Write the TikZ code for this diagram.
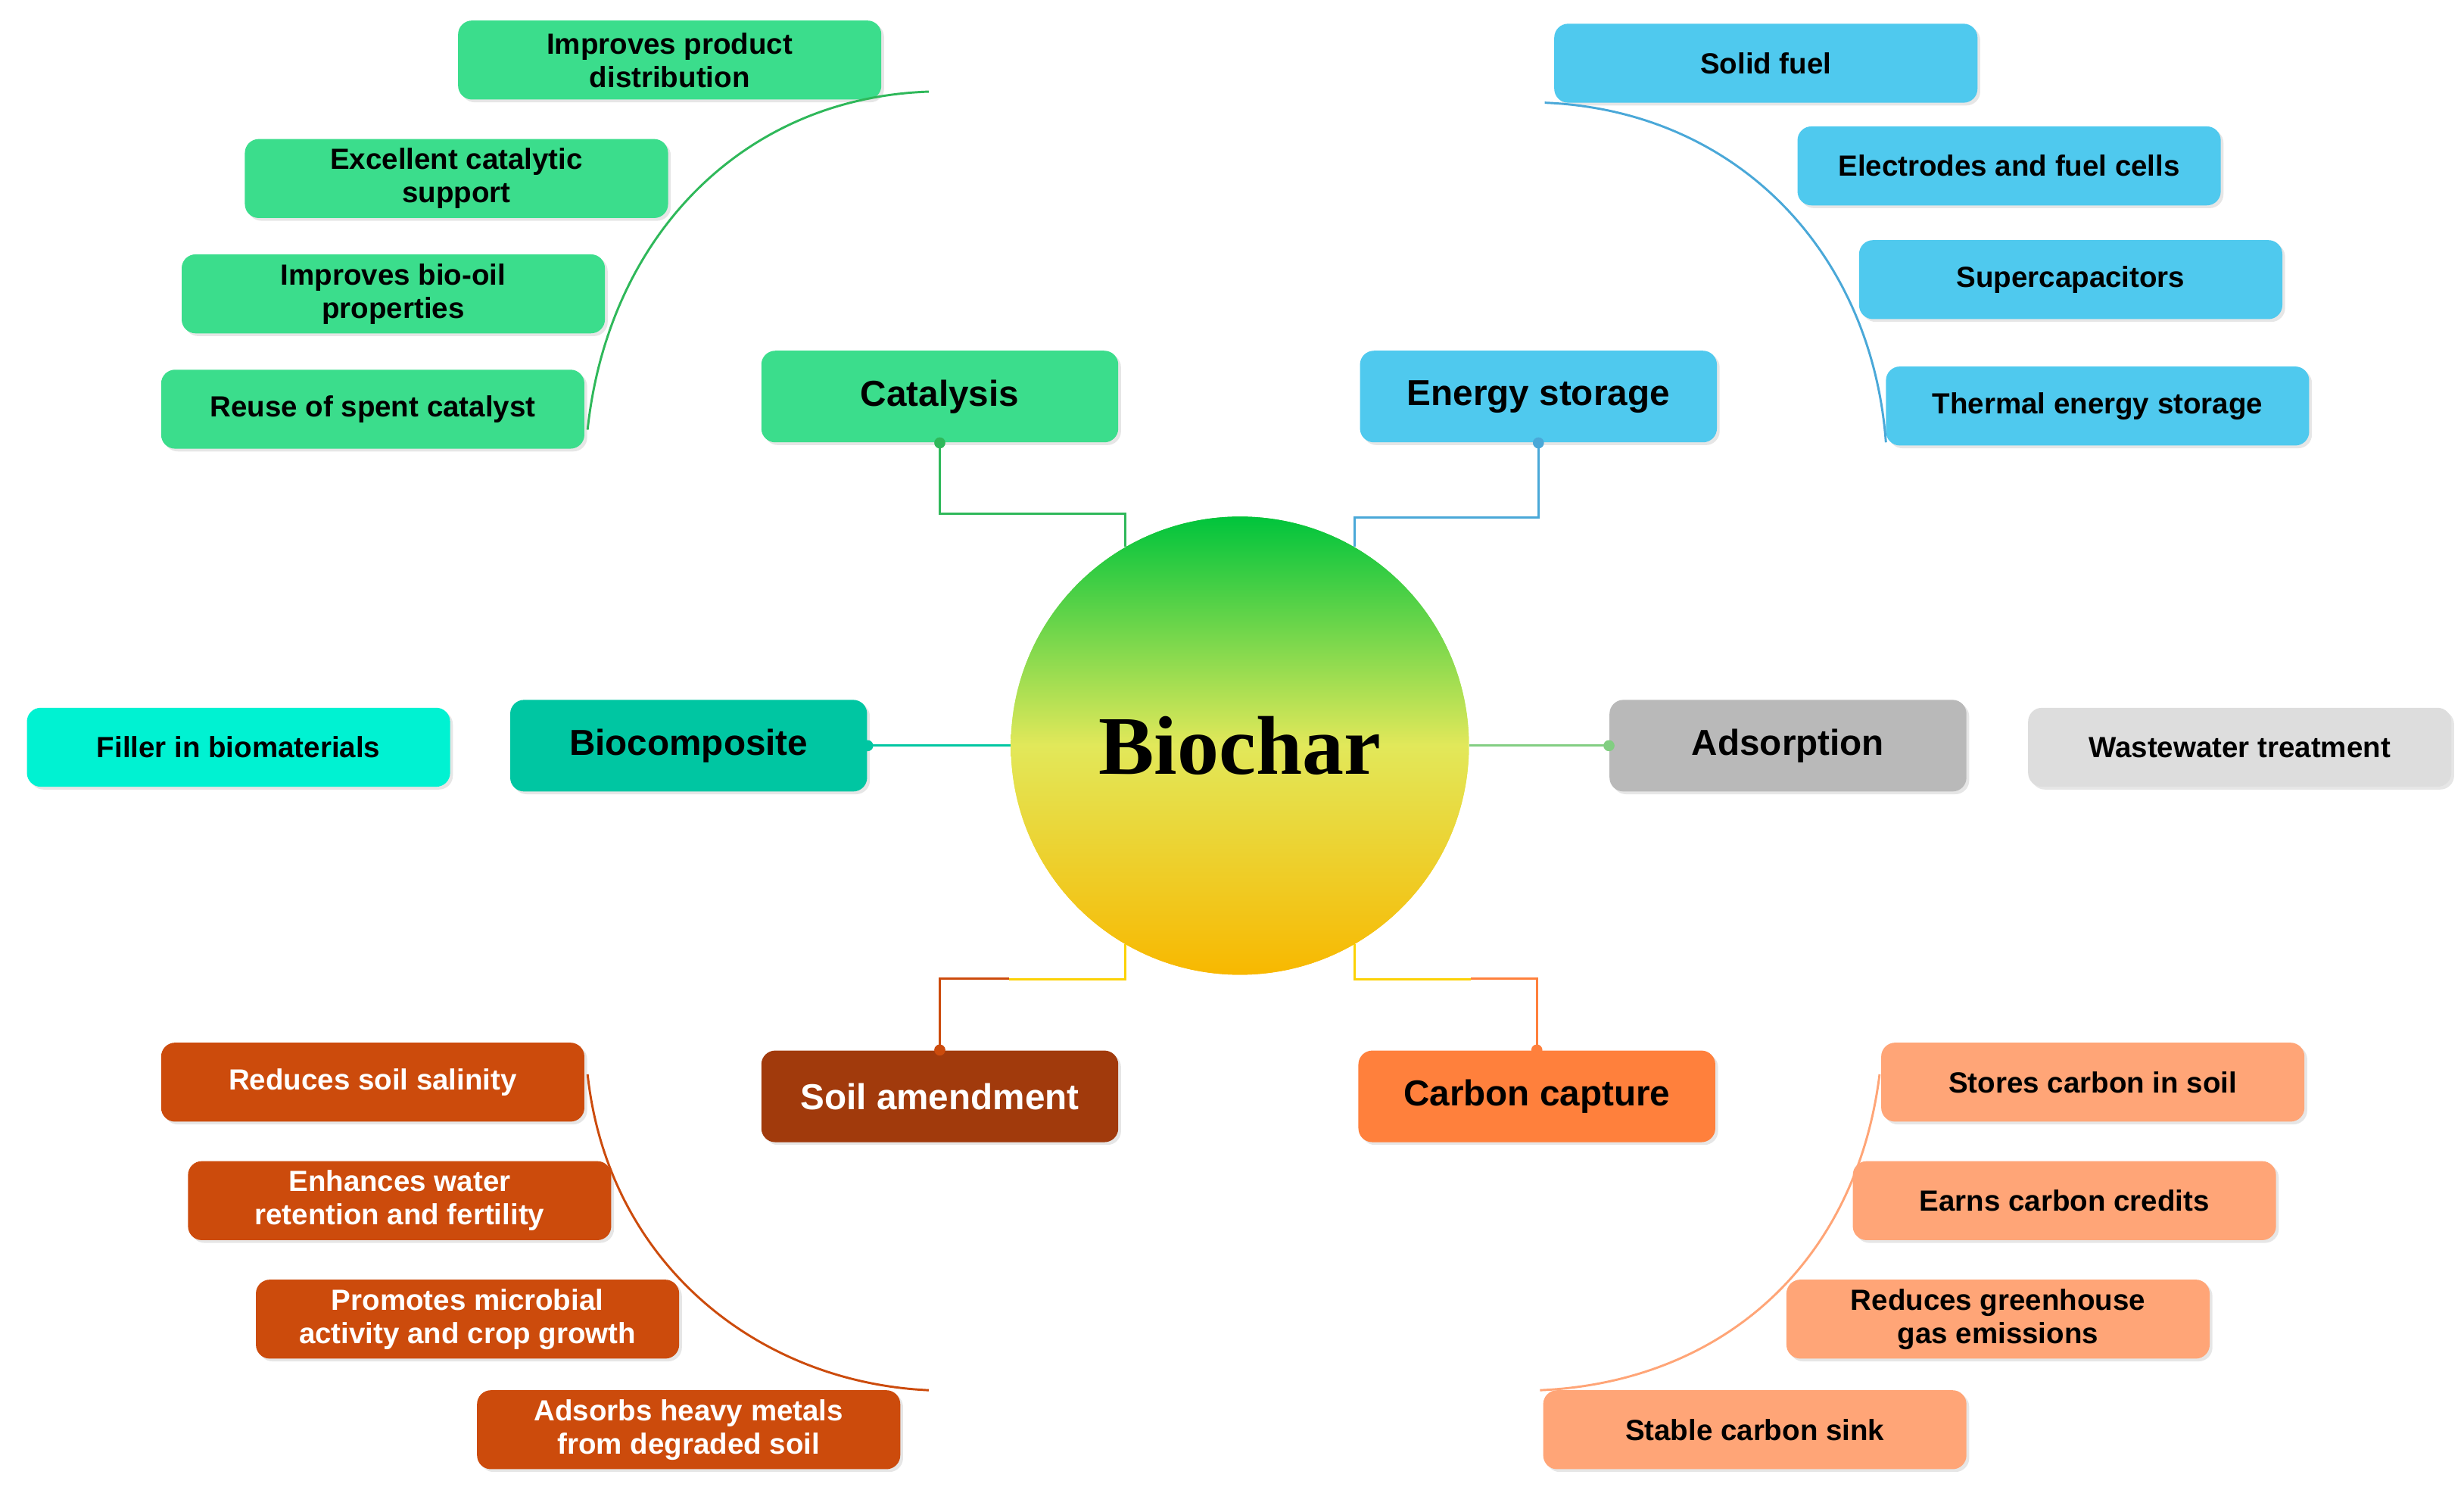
\documentclass[tikz,border=0pt]{standalone}
\usepackage{fontspec}
\setmainfont{Liberation Sans}
\newfontfamily\bigserif{Liberation Serif}
\usetikzlibrary{shadows}
\definecolor{gA}{HTML}{3BDD8C}
\definecolor{gL}{HTML}{2FB85A}
\definecolor{bA}{HTML}{4FC9EE}
\definecolor{bL}{HTML}{4AA8D8}
\definecolor{tA}{HTML}{00C6A2}
\definecolor{cA}{HTML}{00F2D2}
\definecolor{yA}{HTML}{B9B9B9}
\definecolor{wA}{HTML}{DDDDDD}
\definecolor{sA}{HTML}{A13A0C}
\definecolor{sB}{HTML}{CC4B0C}
\definecolor{oA}{HTML}{FF803C}
\definecolor{oB}{HTML}{FFA577}
\begin{document}
\begin{tikzpicture}[x=0.02cm,y=-0.02cm,
 box/.style={rounded corners=5pt,minimum width=5.36cm,minimum height=1cm,align=center,font=\bfseries\fontsize{10.5}{12}\selectfont,inner sep=1pt,drop shadow={opacity=0.2,shadow xshift=1pt,shadow yshift=-1pt}},
 main/.style={box,minimum width=4.52cm,minimum height=1.16cm,font=\bfseries\fontsize{13}{15}\selectfont},
 dot/.style={circle,inner sep=0pt,minimum size=4pt}]
\useasboundingbox (0,0) rectangle (1560,941);
% circle
\shade[top color=green!70!black!90,bottom color=orange!60!yellow,middle color=yellow!80!green!70] (785,472) circle (145);
\shade[top color={rgb,255:red,0;green,196;blue,60},bottom color={rgb,255:red,248;green,184;blue,0},middle color={rgb,255:red,226;green,232;blue,90}] (785,472) circle (145);
\node[circle,minimum size=5.8cm] (bio) at (785,472) {};
\node at (785,472) {\bigserif\bfseries\fontsize{30}{34}\selectfont Biochar};
% main nodes
\node[main,fill=gA] (cat) at (595,251) {Catalysis};
\node[main,fill=bA] (ene) at (974,251) {Energy storage};
\node[main,fill=tA] (bc) at (436,472) {Biocomposite};
\node[main,fill=yA] (ads) at (1132,472) {Adsorption};
\node[main,fill=sA,text=white] (soil) at (595,694) {Soil amendment};
\node[main,fill=oA] (car) at (973,694) {Carbon capture};
% sub nodes
\node[box,fill=gA] (g1) at (424,38) {Improves product\\distribution};
\node[box,fill=gA] (g2) at (289,113) {Excellent catalytic\\support};
\node[box,fill=gA] (g3) at (249,186) {Improves bio-oil\\properties};
\node[box,fill=gA] (g4) at (236,259) {Reuse of spent catalyst};
\node[box,fill=bA] (b1) at (1118,40) {Solid fuel};
\node[box,fill=bA] (b2) at (1272,105) {Electrodes and fuel cells};
\node[box,fill=bA] (b3) at (1311,177) {Supercapacitors};
\node[box,fill=bA] (b4) at (1328,257) {Thermal energy storage};
\node[box,fill=cA] (f1) at (151,473) {Filler in biomaterials};
\node[box,fill=wA] (w1) at (1418,473) {Wastewater treatment};
\node[box,fill=sB,text=white] (s1) at (236,685) {Reduces soil salinity};
\node[box,fill=sB,text=white] (s2) at (253,760) {Enhances water\\retention and fertility};
\node[box,fill=sB,text=white] (s3) at (296,835) {Promotes microbial\\activity and crop growth};
\node[box,fill=sB,text=white] (s4) at (436,905) {Adsorbs heavy metals\\from degraded soil};
\node[box,fill=oB] (o1) at (1325,685) {Stores carbon in soil};
\node[box,fill=oB] (o2) at (1307,760) {Earns carbon credits};
\node[box,fill=oB] (o3) at (1265,835) {Reduces greenhouse\\gas emissions};
\node[box,fill=oB] (o4) at (1111,905) {Stable carbon sink};
% coordinates for arcs
\coordinate (ga) at (588,58); \coordinate (gb) at (372,272);
\coordinate (ba) at (978,65); \coordinate (bb) at (1194,280);
\coordinate (sa) at (372,680); \coordinate (sb) at (588,880);
\coordinate (oa) at (1190,680); \coordinate (ob) at (975,880);
\draw[gL,thick] (ga) .. controls (470,62) and (385,150) .. (gb);
\draw[bL,thick] (ba) .. controls (1100,70) and (1185,160) .. (bb);
\draw[sB,thick] (sa) .. controls (385,800) and (480,875) .. (sb);
\draw[oB,thick] (oa) .. controls (1175,800) and (1090,875) .. (ob);
% connectors
\draw[gL,thick] (cat.south) -- ++(0,45) -| (bio.120);
\node[dot,fill=gL] at (cat.south) {};
\draw[bL,thick] (ene.south) -- ++(0,47) -| (bio.60);
\node[dot,fill=bL] at (ene.south) {};
\draw[tA,thick] (bc.east) -- (bio.west);
\node[dot,fill=tA] at (bc.east) {};
\draw[green!30!yA,thick] (ads.west) -- (bio.east);
\node[dot,fill=green!30!yA] at (ads.west) {};
\draw[sB,thick] (soil.north) -- ++(0,-45) -- ++(44,0);
\draw[yellow!70!orange,thick] (639,620) -| (bio.240);
\node[dot,fill=sB] at (soil.north) {};
\draw[oA,thick] (car.north) -- ++(0,-45) -- ++(-42,0);
\draw[yellow!70!orange,thick] (931,620) -| (bio.300);
\node[dot,fill=oA] at (car.north) {};
\end{tikzpicture}
\end{document}
